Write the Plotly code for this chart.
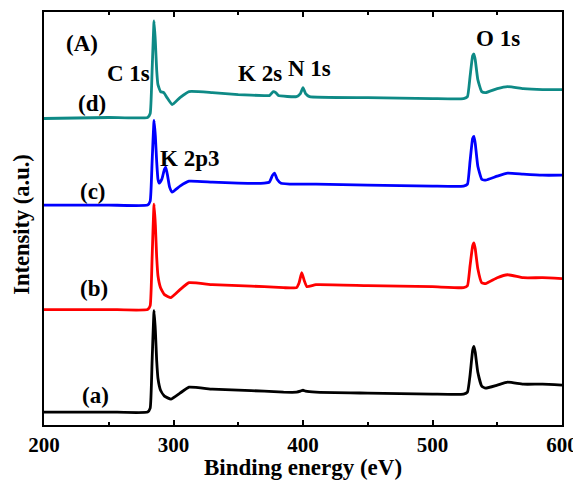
import plotly.graph_objects as go

# ---- data (binding energy in eV, intensity in arbitrary units, offset stacked) ----
x_a = [200, 250, 280, 282, 283.5, 285, 286, 287, 288, 290, 293, 298, 305, 312, 330, 350, 370, 385, 395, 398, 400, 402, 410, 450, 500, 524, 527, 529, 531, 532, 533, 535, 538, 541, 550, 558, 570, 585, 600]
y_a = [13, 13, 13, 17, 65, 115, 95, 65, 47, 35, 29, 26, 32, 38, 36, 35, 34, 33, 33, 34, 35, 34, 33, 32, 31, 31, 33, 50, 75, 79, 73, 53, 39, 37, 40, 43, 41, 41, 40]

x_b = [200, 250, 280, 282, 283.5, 285, 286, 287, 288, 290, 293, 298, 305, 312, 330, 350, 370, 385, 395, 397, 399, 401, 403, 410, 450, 500, 524, 527, 529, 531, 532, 533, 535, 538, 541, 550, 558, 570, 585, 600]
y_b = [116, 116, 116, 120, 169, 222, 201, 169, 150, 138, 131, 128, 136, 143, 141, 140, 139, 138, 138, 143, 153, 145, 139, 141, 140, 139, 138, 140, 160, 180, 183, 177, 157, 143, 142, 148, 151, 148, 148, 147]

x_c = [200, 250, 280, 282, 283.5, 285, 286, 287, 288, 289, 291, 293, 294, 295.5, 297, 299, 305, 312, 330, 350, 370, 374, 376.5, 378, 380, 383, 395, 410, 450, 500, 524, 527, 529, 531, 532, 533, 535, 538, 541, 550, 558, 570, 585, 600]
y_c = [221, 221, 221, 225, 265, 306, 290, 265, 247, 243, 247, 257, 259, 250, 239, 234, 240, 245, 244, 243, 243, 244, 251, 253, 247, 243, 242, 242, 241, 240, 240, 242, 265, 288, 290, 283, 260, 247, 246, 250, 253, 252, 251, 251]

x_d = [200, 250, 280, 282, 283.5, 285, 286, 287, 288, 290, 292.5, 295, 299, 305, 312, 330, 350, 370, 374, 377, 379, 381, 395, 398, 400, 402, 405, 450, 500, 524, 527, 529, 531, 532, 533, 535, 538, 541, 550, 558, 570, 585, 600]
y_d = [308, 309, 309, 313, 357, 406, 385, 357, 342, 335, 334, 329, 322, 329, 335, 334, 332, 331, 331, 335, 334, 331, 330, 333, 339, 333, 330, 329, 328, 328, 330, 350, 371, 373, 367, 347, 335, 334, 338, 340, 338, 337, 337]

series_names = ["(a)", "(b)", "(c)", "(d)"]
series_colors = ["#000000", "#ff0000", "#0000ff", "#0e8a86"]

# peak labels
peak_labels = ["C 1s", "K 2p3", "K 2s", "N 1s", "O 1s"]
peak_x = [265, 312.7, 366.8, 405.4, 550.6]
peak_y = [353, 268, 353, 358, 388]

# curve labels
curve_label_x = [239.4, 238.6, 237.8, 237.1]
curve_label_y = [30, 137, 235, 323]

x_ticks = [200, 300, 400, 500, 600]

FONT = "Liberation Serif"

fig = go.Figure()
for xs, ys, name, col in zip([x_a, x_b, x_c, x_d], [y_a, y_b, y_c, y_d], series_names, series_colors):
    fig.add_trace(go.Scatter(x=xs, y=ys, mode="lines", name=name,
                             line=dict(color=col, width=2.8, shape="spline", smoothing=0.4),
                             showlegend=False))

annotations = []
for t, px, py in zip(peak_labels, peak_x, peak_y):
    annotations.append(dict(x=px, y=py, xref="x", yref="y", text="<b>" + t + "</b>",
                            showarrow=False, font=dict(family=FONT, size=23, color="black")))
for t, px, py in zip(series_names, curve_label_x, curve_label_y):
    annotations.append(dict(x=px, y=py, xref="x", yref="y", text="<b>" + t + "</b>",
                            showarrow=False, font=dict(family=FONT, size=23, color="black")))
annotations.append(dict(x=229.3, y=383, xref="x", yref="y", text="<b>(A)</b>",
                        showarrow=False, font=dict(family=FONT, size=23, color="black")))
annotations.append(dict(x=0.5, y=-0.1036, xref="paper", yref="paper", text="<b>Binding energy (eV)</b>",
                        showarrow=False, yanchor="middle",
                        font=dict(family=FONT, size=23, color="black")))
annotations.append(dict(x=-0.0425, y=0.487, xref="paper", yref="paper", text="<b>Intensity (a.u.)</b>",
                        showarrow=False, textangle=-90, xanchor="center", yanchor="middle",
                        font=dict(family=FONT, size=22.5, color="black")))

# page body has an 8px margin, so the figure is 8px smaller and margins shifted
fig.update_layout(
    width=573, height=472,
    margin=dict(l=36, r=19, t=2, b=55),
    paper_bgcolor="white", plot_bgcolor="white",
    annotations=annotations,
    xaxis=dict(range=[200, 600], tickvals=x_ticks, ticktext=[str(v) for v in x_ticks],
               ticks="inside", ticklen=5, tickwidth=2, tickcolor="black",
               minor=dict(ticks="inside", ticklen=3, tickwidth=2, tickcolor="black", dtick=50),
               showline=True, linecolor="black", linewidth=2, mirror="ticks",
               showgrid=False, zeroline=False,
               tickfont=dict(family=FONT, size=21, color="black", weight="bold")),
    yaxis=dict(range=[0, 415], showticklabels=False, ticks="",
               showline=True, linecolor="black", linewidth=2, mirror=True,
               showgrid=False, zeroline=False),
)

fig.write_html("out.html")
